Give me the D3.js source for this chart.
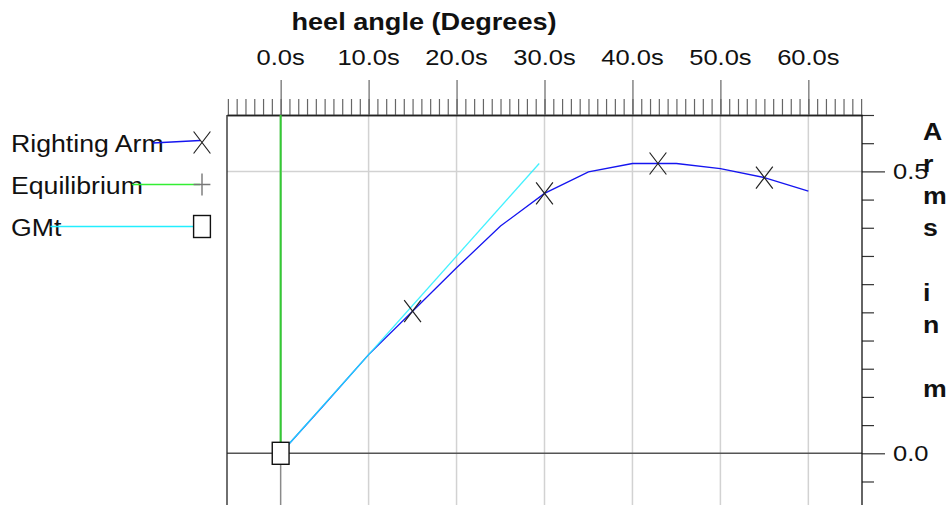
<!DOCTYPE html>
<html>
<head>
<meta charset="utf-8">
<script src="https://cdn.jsdelivr.net/npm/d3@7"></script>
<style>
  html, body { margin: 0; padding: 0; background: #fff; }
  svg { display: block; }
  text { font-family: "Liberation Sans", Arial, Helvetica, sans-serif; fill: #111; }
</style>
</head>
<body>
<svg id="chart" width="949" height="505"></svg>
<script>
// ---------------- data ----------------
const angles        = [0, 5, 10, 15, 20, 25, 30, 35, 40, 42.9, 45, 50, 55, 60];
const rightingArm   = [0, 0.087, 0.175, 0.252, 0.329, 0.403, 0.461, 0.499, 0.514, 0.514, 0.514, 0.505, 0.489, 0.465];
const markerAngles  = [15, 30, 42.9, 55];
const markerArms    = [0.252, 0.461, 0.514, 0.489];
const gmtAngles     = [0, 29.4];
const gmtValues     = [0, 0.514];
const eqAngles      = [0, 0];
const eqValues      = [0, 0.62];
const xMajorTicks   = [0, 10, 20, 30, 40, 50, 60];
const xMinorTicks   = d3.range(-6, 67, 1);
const yMajorTicks   = [0, 0.5];
const yMinorTicks   = [-0.05, 0.05, 0.1, 0.15, 0.2, 0.25, 0.3, 0.35, 0.4, 0.45, 0.55, 0.6];
const legendNames   = ["Righting Arm", "Equilibrium", "GMt"];
const xTitle        = "heel angle (Degrees)";
const yTitle        = "Arms in m";

// ---------------- layout ----------------
const SX = 1.16; // horizontal text stretch of the reference rendering
const plot = { left: 227, right: 862, top: 115, bottom: 505 };
const x = d3.scaleLinear().domain([-6.1, 66.1]).range([plot.left, plot.right]);
const y = d3.scaleLinear().domain([0, 0.6]).range([453.3, plot.top]);

const svg = d3.select("#chart");
svg.append("defs").append("clipPath").attr("id", "clip")
  .append("rect").attr("x", plot.left).attr("y", plot.top)
  .attr("width", plot.right - plot.left).attr("height", plot.bottom - plot.top);

// grid
const grid = svg.append("g");
grid.selectAll("line.vg").data(xMajorTicks).join("line")
  .attr("x1", d => x(d)).attr("x2", d => x(d))
  .attr("y1", plot.top).attr("y2", plot.bottom)
  .attr("stroke", d => d === 0 ? "#8a8a8a" : "#d2d2d2").attr("stroke-width", 1.5);
grid.append("line")
  .attr("x1", plot.left).attr("x2", plot.right)
  .attr("y1", y(0.5)).attr("y2", y(0.5))
  .attr("stroke", "#d2d2d2").attr("stroke-width", 1.5);
grid.append("line")
  .attr("x1", plot.left).attr("x2", plot.right)
  .attr("y1", y(0)).attr("y2", y(0))
  .attr("stroke", "#555").attr("stroke-width", 1.5);

// left frame
svg.append("line").attr("x1", plot.left).attr("x2", plot.left)
  .attr("y1", plot.top).attr("y2", plot.bottom)
  .attr("stroke", "#222").attr("stroke-width", 1.3);

// top axis
const topMinor = d3.axisTop(x).tickValues(xMinorTicks).tickSize(16).tickSizeOuter(0).tickFormat("");
const topMajor = d3.axisTop(x).tickValues(xMajorTicks).tickSize(35).tickSizeOuter(0).tickFormat("");
const gTop1 = svg.append("g").attr("transform", `translate(0,${plot.top})`).call(topMinor);
const gTop2 = svg.append("g").attr("transform", `translate(0,${plot.top})`).call(topMajor);
[gTop1, gTop2].forEach(g => {
  g.select(".domain").attr("stroke", "#222").attr("stroke-width", 1.3);
  g.selectAll(".tick line").attr("stroke", "#666").attr("stroke-width", 1.2);
});
svg.append("g").selectAll("text").data(xMajorTicks).join("text")
  .attr("transform", d => `translate(${x(d)},65) scale(${SX},1)`)
  .attr("text-anchor", "middle").style("font-size", "22px")
  .text(d => d.toFixed(1) + "s");
svg.append("text")
  .attr("transform", `translate(424,30) scale(1.13,1)`)
  .attr("text-anchor", "middle").style("font-size", "24px").style("font-weight", "bold")
  .text(xTitle);

// right axis
const rMinor = d3.axisRight(y).tickValues(yMinorTicks).tickSize(12).tickSizeOuter(0).tickFormat("");
const rMajor = d3.axisRight(y).tickValues(yMajorTicks).tickSize(23).tickSizeOuter(0).tickFormat("");
const gR1 = svg.append("g").attr("transform", `translate(${plot.right},0)`).call(rMinor);
const gR2 = svg.append("g").attr("transform", `translate(${plot.right},0)`).call(rMajor);
[gR1, gR2].forEach(g => {
  g.select(".domain").remove();
  g.selectAll(".tick line").attr("stroke", "#333").attr("stroke-width", 1.2);
});
svg.append("line").attr("x1", plot.right).attr("x2", plot.right)
  .attr("y1", plot.top).attr("y2", plot.bottom)
  .attr("stroke", "#111").attr("stroke-width", 1.3);
svg.append("g").selectAll("text").data(yMajorTicks).join("text")
  .attr("transform", d => `translate(893,${y(d) + 8}) scale(${SX},1)`)
  .style("font-size", "22px")
  .text(d => d.toFixed(1));
// vertical letter-stacked title
svg.append("g").selectAll("text").data(yTitle.split("")).join("text")
  .attr("transform", (d, i) => `translate(923,${140 + i * 32.1}) scale(${SX},1)`)
  .style("font-size", "23px").style("font-weight", "bold")
  .text(d => d);

// series
const plotG = svg.append("g").attr("clip-path", "url(#clip)");
const line = d3.line().x(d => x(d[0])).y(d => y(d[1]));
plotG.append("path").datum(d3.zip(eqAngles, eqValues)).attr("d", line)
  .attr("fill", "none").attr("stroke", "#33cc33").attr("stroke-width", 2);
plotG.append("path").datum(d3.zip(angles, rightingArm)).attr("d", line)
  .attr("fill", "none").attr("stroke", "#1515f0").attr("stroke-width", 1.3);
plotG.append("path").datum(d3.zip(gmtAngles, gmtValues)).attr("d", line)
  .attr("fill", "none").attr("stroke", "#22eeff").attr("stroke-width", 1.3)
  .attr("stroke-opacity", 0.85);

const MW = 8.4, MH = 11; // marker half width / half height
function xMarker(g, cx, cy) {
  g.append("path")
    .attr("d", `M${cx - MW},${cy - MH}L${cx + MW},${cy + MH}M${cx - MW},${cy + MH}L${cx + MW},${cy - MH}`)
    .attr("stroke", "#222").attr("stroke-width", 1.2).attr("fill", "none");
}
function plusMarker(g, cx, cy) {
  g.append("path")
    .attr("d", `M${cx - MW},${cy}L${cx + MW},${cy}M${cx},${cy - MH}L${cx},${cy + MH}`)
    .attr("stroke", "#777").attr("stroke-width", 1.4).attr("fill", "none");
}
function boxMarker(g, cx, cy) {
  g.append("rect").attr("x", cx - MW).attr("y", cy - MH)
    .attr("width", 2 * MW).attr("height", 2 * MH)
    .attr("fill", "#fff").attr("stroke", "#111").attr("stroke-width", 1.4);
}
const mk = svg.append("g");
d3.zip(markerAngles, markerArms).forEach(d => xMarker(mk, x(d[0]), y(d[1])));
boxMarker(mk, x(gmtAngles[0]), y(gmtValues[0]));

// legend
const leg = svg.append("g");
const legY = [152, 194, 236];
const legColors = ["#1515f0", "#33ee33", "#22eeff"];
const legMarkers = [xMarker, plusMarker, boxMarker];
legendNames.forEach((name, i) => {
  const t = leg.append("text")
    .attr("transform", `translate(11,${legY[i]}) scale(${SX},1)`)
    .style("font-size", "23px").text(name);
  const endX = 11 + t.node().getComputedTextLength() * SX;
  const cy = legY[i] - 9.5;
  const mx = 202;
  leg.append("line").attr("x1", endX - 11).attr("x2", i === 2 ? mx - MW : mx - 2)
    .attr("y1", i === 0 ? cy + 0.5 : cy).attr("y2", i === 0 ? cy - 2 : cy)
    .attr("stroke", legColors[i]).attr("stroke-width", 1.3);
  legMarkers[i](leg, mx, cy);
});
</script>
</body>
</html>
